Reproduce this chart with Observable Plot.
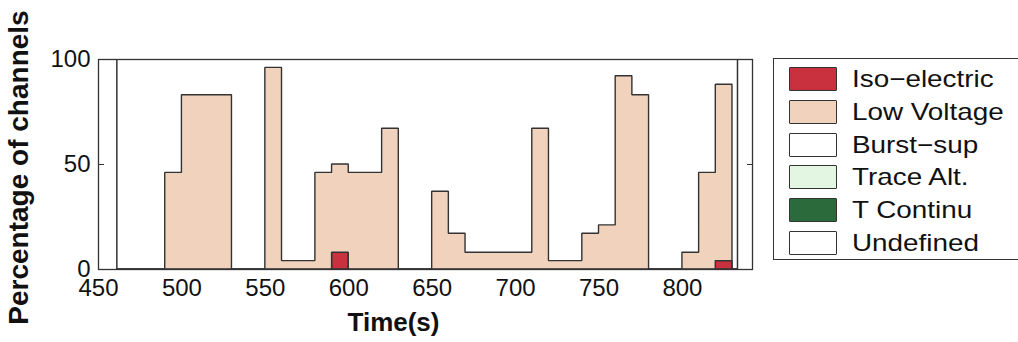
<!DOCTYPE html>
<html>
<head>
<meta charset="utf-8">
<script src="https://cdn.jsdelivr.net/npm/d3@7"></script>
<script src="https://cdn.jsdelivr.net/npm/@observablehq/plot@0.6"></script>
<style>
  html, body { margin: 0; padding: 0; background: #fff; }
  #wrap { position: relative; width: 1018px; height: 342px; overflow: hidden; font-family: "Liberation Sans", Arial, Helvetica, sans-serif; }
  #chart { position: absolute; left: 0; top: 0; }
  #legend { position: absolute; left: 773px; top: 58px; width: 260px; height: 202px; border: 1.5px solid #333; box-sizing: border-box; background: #fff; }
  .row { position: absolute; left: 15px; height: 24px; display: flex; align-items: center; }
  .sw { width: 46px; height: 22px; border: 1.3px solid #333; border-radius: 1px; box-sizing: content-box; }
  .lab { margin-left: 15px; font-size: 24px; color: #111; white-space: nowrap; line-height: 24px; display: inline-block; transform: scaleX(1.16); transform-origin: 0 50%; }
</style>
</head>
<body>
<div id="wrap">
  <div id="chart"></div>
  <div id="legend"></div>
</div>
<script>
// ---- data ----
const states = ["Iso\u2212electric", "Low Voltage", "Burst\u2212sup", "Trace Alt.", "T Continu", "Undefined"];
const stateColors = ["#c9313f", "#f1d2bc", "#ffffff", "#e2f6e2", "#2b6a3b", "#ffffff"];
const segStart = [461, 490, 500, 530, 550, 560, 580, 590, 600, 620, 630, 650, 660, 670, 710, 720, 740, 750, 760, 770, 780, 800, 810, 820, 830];
const isoElectric = [0, 0, 0, 0, 0, 0, 0, 8, 0, 0, 0, 0, 0, 0, 0, 0, 0, 0, 0, 0, 0, 0, 0, 4, 0];
const lowVoltage = [0, 46, 83, 0, 96, 4, 46, 42, 46, 67, 0, 37, 17, 8, 67, 4, 17, 21, 92, 83, 0, 8, 46, 84, 0];
const recordEnd = 833;
const recordBounds = [461, 833];
const xTicks = [450, 500, 550, 600, 650, 700, 750, 800];
const yTicks = [0, 50, 100];
const xDomain = [450, 842];
const yDomain = [0, 100];

// build the long table for stacking
const times = [...segStart, recordEnd];
const table = [];
times.forEach((t, i) => {
  const inRange = i < segStart.length;
  table.push({t, state: states[0], v: inRange ? isoElectric[i] : 0});
  table.push({t, state: states[1], v: inRange ? lowVoltage[i] : 0});
});

const font = "Liberation Sans, Arial, Helvetica, sans-serif";
const chart = Plot.plot({
  width: 760,
  height: 342,
  marginLeft: 98,
  marginRight: 8,
  marginTop: 59,
  marginBottom: 73,
  style: {fontFamily: font, background: "#fff", color: "#111"},
  x: {domain: xDomain},
  y: {domain: yDomain},
  color: {domain: states, range: stateColors},
  marks: [
    Plot.areaY(table, {
      x: "t", y: "v", fill: "state", order: [states[0], states[1]],
      curve: "step-after", stroke: "#333", strokeWidth: 1.4, strokeLinejoin: "miter"
    }),
    Plot.ruleX(recordBounds, {stroke: "#333", strokeWidth: 1.5}),
    Plot.frame({stroke: "#333", strokeWidth: 1.3}),
    Plot.axisY(yTicks, {anchor: "left", tickSize: -6, tickFormat: () => "", stroke: "#333", label: null}),
    Plot.axisY(yTicks, {anchor: "right", tickSize: -6, tickFormat: () => "", stroke: "#333", label: null}),
    Plot.axisY(yTicks, {anchor: "left", tickSize: 0, tickPadding: 8, fontSize: 24, label: null}),
    Plot.axisX(xTicks, {anchor: "bottom", tickSize: 0, tickPadding: 9, fontSize: 24, label: null}),
    Plot.text(["Time(s)"], {frameAnchor: "bottom", dx: -32, dy: 61, lineAnchor: "bottom", fontSize: 26, fontWeight: "bold", fill: "#111"}),
    Plot.text(["Percentage of channels"], {frameAnchor: "left", textAnchor: "middle", rotate: -90, dx: -71, dy: 3, lineAnchor: "bottom", fontSize: 28, fontWeight: "bold", fill: "#111"})
  ]
});
document.getElementById("chart").appendChild(chart);

// legend
const legend = document.getElementById("legend");
states.forEach((s, i) => {
  const row = document.createElement("div");
  row.className = "row";
  row.style.top = (8 + i * 32.8) + "px";
  const sw = document.createElement("div");
  sw.className = "sw";
  sw.style.background = stateColors[i];
  const lab = document.createElement("span");
  lab.className = "lab";
  lab.textContent = s;
  row.appendChild(sw);
  row.appendChild(lab);
  legend.appendChild(row);
});
</script>
</body>
</html>
